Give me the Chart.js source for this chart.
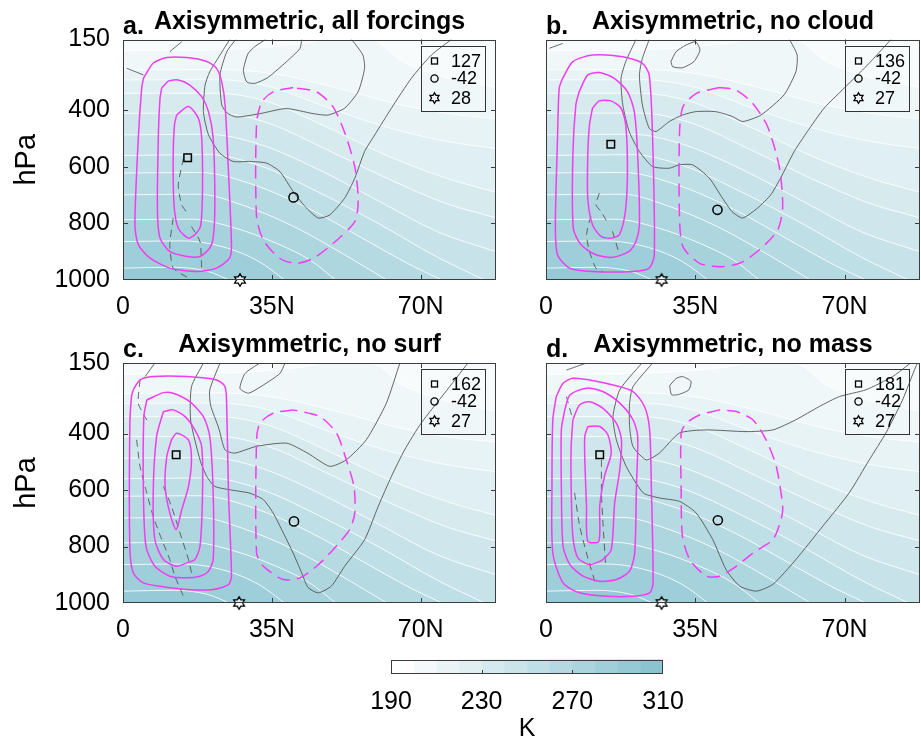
<!DOCTYPE html>
<html><head><meta charset="utf-8">
<script src="https://cdn.jsdelivr.net/npm/chart.js@4.4.1/dist/chart.umd.min.js"></script>
<style>
html,body{margin:0;padding:0;background:#fff;width:921px;height:742px;overflow:hidden;position:relative}
canvas{position:absolute}
</style></head><body>
<canvas id="pa" width="500" height="322" style="left:0px;top:0px"></canvas>
<canvas id="pb" width="498" height="322" style="left:423px;top:0px"></canvas>
<canvas id="pc" width="500" height="322" style="left:0px;top:323px"></canvas>
<canvas id="pd" width="498" height="322" style="left:423px;top:323px"></canvas>
<canvas id="cb" width="380" height="102" style="left:340px;top:640px"></canvas>
<script>
// ---------------- axes / ticks ----------------
const xTickValues = [0, 35, 70];
const xTickLabels = ['0', '35N', '70N'];
const yTickValues = [150, 400, 600, 800, 1000];
const latMin = 0, latMax = 87.7, pTop = 150, pBottom = 1000;
const cbLevels = [190, 200, 210, 220, 230, 240, 250, 260, 270, 280, 290, 300, 310];
const cbTickValues = [190, 230, 270, 310];

// ---------------- temperature isotherms [lat, hPa] (shared shading) ----------------
const isoL01 = [[0,190],[25,185],[42,165],[48,150],[58,150],[66,230],[76,285],[87.7,320]];
const isoL02 = [[0,258],[22,256],[35,270],[50,320],[65,380],[78,415],[87.7,430]];
const isoL03 = [[0,293],[22,292],[34,315],[48,390],[62,460],[76,510],[87.7,535]];
const isoL04 = [[0,340],[22,340],[34,370],[48,460],[62,560],[76,640],[87.7,690]];
const isoL05 = [[0,411],[22,410],[34,445],[48,540],[62,640],[76,730],[87.7,780]];
const isoL06 = [[0,487],[20,485],[32,520],[46,610],[60,720],[74,830],[87.7,900]];
const isoL07 = [[0,560],[20,557],[32,595],[46,690],[60,800],[74,920],[85,1000]];
const isoL08 = [[0,622],[18,620],[30,660],[44,750],[56,850],[68,950],[75,1000]];
const isoL09 = [[0,699],[18,697],[28,735],[40,810],[52,910],[62,1000]];
const isoL10 = [[0,787],[16,785],[26,815],[36,870],[44,930],[50,1000]];
const isoL11 = [[0,864],[14,862],[24,885],[32,935],[38,1000]];
const isoL12 = [[0,958],[12,955],[20,970],[25,1000]];

// ---------------- panel a ----------------
const aPsiPos = [
 [[4.8,287],[7.1,234],[10.3,214],[15.0,214],[19.7,228],[22.0,252],[23.2,299],[24.0,381],[24.8,617],[25.5,875],[25.1,922],[22.0,958],[17.3,970],[11.0,958],[6.3,922],[3.6,875],[2.8,805],[3.6,499],[4.4,322]],
 [[9.1,322],[10.7,297],[13.0,293],[15.7,311],[18.5,352],[20.1,405],[21.2,499],[21.6,734],[21.2,852],[20.4,887],[18.1,917],[15.0,917],[11.0,899],[8.7,852],[8.1,758],[8.3,499],[8.7,358]],
 [[12.6,417],[15.4,387],[17.7,428],[18.5,499],[18.7,675],[18.3,805],[17.3,834],[15.4,852],[13.0,817],[12.0,734],[11.8,558],[12.1,452]]
];
const aPsiNeg = [
 [[40.0,320],[35.3,335],[32.6,371],[31.4,447],[31.4,776],[33.0,859],[36.9,924],[40.8,941],[44.7,924],[49.4,871],[54.5,794],[55.3,718],[54.5,600],[52.2,482],[49.4,388],[45.5,335]]
];
const aGreySolid = [
 [[25.1,150],[22.8,205],[20.4,264],[19.3,311],[18.9,405],[20.1,487],[22.8,552],[25.9,581],[29.8,581],[33.8,587],[36.9,617],[40.0,687],[42.8,740],[45.9,781],[48.6,770],[52.1,711],[54.5,640],[56.8,546],[59.2,487],[63.1,393],[67.8,287],[72.5,205],[77.2,150]],
 [[26.5,150],[24.4,193],[22.8,275],[23.2,381],[24.5,410],[26.7,424],[32.2,412],[38.4,394],[44.7,412],[48.2,417],[52.1,393],[55.3,334],[56.8,252],[56.4,205],[54.5,164],[53.7,150]],
 [[33.5,150],[31.0,175],[29.4,200],[28.3,259],[29.1,300],[31.0,305],[34.0,285],[38.4,229],[41.6,182],[42.0,150]],
 [[0.9,252],[4.8,275]],
 [[11.0,193],[13.8,158]]
];
const aGreyDash = [
 [[14.2,570],[13.0,664],[13.8,734],[15.4,770]],
 [[11.8,781],[11.0,875],[11.8,958],[15.4,993]],
 [[16.1,811],[18.1,864],[18.5,958]]
];
const aSquare = [15.2, 568], aCircle = [40.1, 708], aStar = [27.5, 1000];
const aLegend = [127, -42, 28];

// ---------------- panel b ----------------
const bPsiPos = [
 [[3.9,287],[6.3,228],[10.9,205],[18.0,211],[22.6,234],[24.2,275],[25.0,499],[25.4,911],[24.2,958],[20.3,970],[10.9,970],[5.5,958],[2.7,911],[2.2,805],[2.7,499],[3.1,322]],
 [[7.8,334],[9.8,275],[12.5,267],[16.0,287],[19.1,334],[20.7,405],[21.5,558],[21.9,805],[21.1,864],[19.5,899],[15.6,920],[11.7,911],[8.2,875],[6.4,817],[6.3,558],[7.0,381]],
 [[10.9,393],[12.5,367],[15.2,367],[17.6,393],[18.7,452],[19.1,617],[18.6,758],[17.2,840],[15.2,852],[12.9,846],[10.9,805],[9.8,711],[9.8,558],[10.2,452]]
];
const bPsiNeg = [
 [[40.7,320],[35.2,341],[32.1,388],[31.3,482],[31.3,776],[32.1,882],[36.0,941],[40.7,953],[45.4,941],[50.0,894],[54.3,824],[55.5,741],[54.7,600],[52.0,459],[48.5,376],[44.6,329]]
];
const bGreySolid = [
 [[21.1,150],[18.7,228],[17.6,287],[18.0,381],[19.5,475],[21.9,546],[25.0,599],[28.9,605],[31.2,593],[34.4,593],[38.3,640],[41.4,711],[43.6,758],[46.1,781],[49.6,746],[52.7,699],[55.0,640],[58.2,546],[61.3,475],[65.2,393],[69.9,322],[75.4,240],[80.9,150]],
 [[24.2,150],[22.6,217],[21.9,275],[22.6,381],[24.2,464],[25.8,475],[28.9,440],[32.0,417],[35.1,405],[39.8,405],[43.7,422],[46.1,440],[50.4,417],[55.8,346],[58.6,264],[58.9,205],[57.4,158],[57.0,150]],
 [[29.3,228],[30.5,193],[32.8,170],[35.1,158],[36.1,187],[34.7,228],[32.0,250],[29.7,246],[29.3,228]],
 [[0.8,181],[3.9,164]]
];
const bGreyDash = [
 [[12.5,693],[11.7,734],[12.9,758],[14.5,799]],
 [[10.5,775],[9.5,840],[10.2,899],[11.7,958],[13.3,970]],
 [[15.6,828],[17.0,899]]
];
const bSquare = [15.2, 520], bCircle = [40.2, 752], bStar = [27.1, 1000];
const bLegend = [136, -42, 27];

// ---------------- panel c ----------------
const cPsiPos = [
 [[2.4,245],[4.0,210],[7.1,198],[15.0,198],[22.0,210],[24.0,234],[24.4,316],[24.8,611],[25.5,905],[24.8,935],[21.2,952],[15.0,952],[8.7,941],[4.8,929],[2.4,893],[1.6,799],[1.6,375],[2.0,269]],
 [[5.6,281],[9.5,255],[11.8,257],[15.7,287],[18.9,340],[20.4,410],[21.2,611],[21.2,846],[20.1,887],[18.1,905],[15.0,911],[11.0,905],[7.5,870],[5.4,799],[4.8,611],[4.9,340]],
 [[9.5,322],[11.8,316],[14.6,340],[16.9,387],[18.5,446],[18.7,611],[18.1,799],[16.9,846],[15.0,858],[12.6,870],[9.5,846],[7.5,776],[7.1,611],[7.9,410]],
 [[11.4,422],[12.6,399],[15.4,422],[16.1,493],[15.4,587],[13.8,670],[12.5,740],[11.0,681],[9.9,587],[10.3,481]]
];
const cPsiNeg = [
 [[40.0,316],[35.3,328],[32.2,363],[31.4,422],[31.4,822],[33.0,870],[37.7,917],[41.6,911],[45.5,870],[49.4,811],[53.3,740],[54.5,681],[54.3,587],[52.5,493],[50.2,398],[46.3,340]]
];
const cGreySolid = [
 [[18.9,150],[16.1,234],[15.9,352],[18.1,493],[19.7,552],[21.6,587],[25.1,599],[29.8,611],[33.0,634],[35.3,681],[37.7,752],[40.0,823],[42.0,893],[43.5,945],[45.9,964],[49.0,940],[52.1,870],[56.8,776],[60.0,658],[63.1,552],[66.2,458],[70.1,363],[75.6,257],[81.1,150]],
 [[22.8,150],[20.4,245],[20.6,300],[22.5,380],[24.0,458],[26.3,469],[31.4,445],[38.5,434],[43.5,470],[48.6,516],[52.5,493],[57.2,422],[61.9,293],[65.1,150]],
 [[32.2,150],[28.7,187],[27.5,240],[29.5,257],[33.0,228],[36.9,187],[38.1,150]],
 [[7.5,150],[5.2,198]]
];
const cGreyDash = [
 [[4.0,210],[3.6,293],[5.6,352]],
 [[3.2,422],[4.0,516],[5.6,611],[7.1,693],[9.1,775],[11.0,846],[12.2,905],[14.2,976]],
 [[9.5,587],[11.4,658],[13.4,752],[15.4,846],[16.1,893]]
];
const cSquare = [12.5, 475], cCircle = [40.2, 711], cStar = [27.3, 1000];
const cLegend = [162, -42, 27];

// ---------------- panel d ----------------
const dPsiPos = [
 [[2.4,269],[4.0,222],[6.3,204],[10.2,210],[15.7,228],[20.4,251],[23.1,304],[24.3,387],[24.7,587],[25.1,929],[24.3,964],[20.4,976],[14.1,976],[7.9,964],[4.0,929],[1.6,823],[1.4,587],[1.6,351]],
 [[4.4,316],[5.6,263],[9.5,239],[13.3,251],[17.3,292],[20.4,351],[21.5,410],[21.2,587],[20.8,823],[19.6,887],[16.5,917],[12.6,923],[8.7,905],[5.6,864],[4.0,799],[3.6,587],[3.6,387]],
 [[6.3,351],[7.9,298],[10.2,287],[13.3,310],[16.5,363],[17.7,422],[17.3,528],[16.1,646],[15.3,811],[13.3,846],[10.2,864],[7.5,840],[6.3,764],[5.9,587],[5.9,446]],
 [[9.8,375],[12.6,375],[14.5,404],[15.3,469],[13.7,552],[12.6,658],[12.4,781],[9.8,781],[9.5,658],[9.1,493],[9.1,410]]
];
const dPsiNeg = [
 [[40.7,316],[36.0,334],[32.9,363],[31.7,398],[31.7,610],[32.0,764],[33.7,846],[37.6,905],[40.7,905],[44.6,870],[48.5,823],[53.2,775],[55.1,705],[55.5,658],[54.0,516],[51.6,422],[48.5,351],[44.6,322]]
];
const dGreySolid = [
 [[22.5,150],[17.3,245],[15.7,340],[16.5,422],[18.8,516],[22.8,610],[26.6,628],[31.3,640],[35.2,681],[39.1,775],[42.2,881],[45.4,940],[49.3,958],[53.2,934],[58.6,846],[64.9,728],[71.1,610],[75.8,493],[79.7,398],[83.6,281],[86.7,163],[87.2,150]],
 [[25.0,150],[20.4,234],[19.6,293],[19.6,375],[20.4,446],[23.5,493],[26.6,469],[31.3,398],[37.6,387],[46.9,393],[53.2,387],[58.6,351],[64.1,304],[68.8,269],[75.0,245],[81.3,198],[84.4,163],[85.5,150]],
 [[29.0,230],[30.5,205],[32.0,198],[34.0,215],[33.5,245],[31.0,262],[29.4,262],[29.0,230]],
 [[4.8,175],[9.5,150]]
];
const dGreyDash = [
 [[4.8,269],[6.3,351]],
 [[13.0,493],[13.0,610],[13.4,728],[14.0,870]],
 [[6.7,610],[7.9,728],[9.9,846],[11.8,940]]
];
const dSquare = [12.6, 475], dCircle = [40.3, 707], dStar = [27.1, 1000];
const dLegend = [181, -42, 27];

// ---------------- styles ----------------
const FONT = "'Liberation Sans', Arial, Helvetica, sans-serif";
const MAGENTA = '#f23cf0';
const GREY = 'rgba(75,75,75,0.85)';
const DARK = [138, 196, 209];
function mix(t) {
  return 'rgb(' + DARK.map(c => Math.round(255 - t * (255 - c))).join(',') + ')';
}
function bandColor(k) { return mix(0.06 + 0.07 * k); }
function cbColor(i) { return mix(i / 11); }

function hexPath(ctx, x, y, R) {
  ctx.beginPath();
  for (let i = 0; i < 12; i++) {
    const a = -Math.PI / 2 + i * Math.PI / 6;
    const r = i % 2 === 0 ? R : R / Math.sqrt(3);
    const px = x + r * Math.cos(a), py = y + r * Math.sin(a);
    if (i) ctx.lineTo(px, py); else ctx.moveTo(px, py);
  }
  ctx.closePath();
}
const starImg = document.createElement('canvas');
starImg.width = 16; starImg.height = 16;
(function () {
  const c = starImg.getContext('2d');
  hexPath(c, 8, 8, 6.2);
  c.fillStyle = 'rgba(255,255,255,0.7)'; c.fill();
  c.lineWidth = 1.3; c.strokeStyle = '#000'; c.stroke();
})();

const toXY = arr => arr.map(p => ({x: p[0], y: p[1]}));
const closeLoop = arr => arr.concat([arr[0]]);

function lineDs(arr, color, width, dash, tension) {
  return {data: toXY(arr), borderColor: color, borderWidth: width, borderDash: dash,
    pointRadius: 0, tension: tension, fill: false, borderJoinStyle: 'round'};
}
function isoDs(arr, color) {
  return {data: toXY(arr), borderColor: 'rgba(255,255,255,0.85)', borderWidth: 1,
    backgroundColor: color, fill: {value: pBottom}, pointRadius: 0,
    cubicInterpolationMode: 'monotone'};
}
function markerDs(pt, style, radius) {
  return {data: toXY([pt]), showLine: false, pointStyle: style, pointRadius: radius,
    pointBorderColor: '#000', pointBackgroundColor: 'rgba(0,0,0,0)', pointBorderWidth: 1.5, clip: false};
}

const isoLines = [isoL01, isoL02, isoL03, isoL04, isoL05, isoL06, isoL07, isoL08, isoL09, isoL10, isoL11, isoL12];

const panelDeco = {
  id: 'panelDeco',
  beforeDatasetsDraw(chart, args, o) {
    if (!o.bg) return;
    const {ctx, chartArea: a} = chart;
    ctx.save(); ctx.fillStyle = o.bg;
    ctx.fillRect(a.left, a.top, a.right - a.left, a.bottom - a.top);
    ctx.restore();
  },
  afterDatasetsDraw(chart, args, o) {
    const {ctx, chartArea: a, scales} = chart;
    ctx.save();
    ctx.strokeStyle = '#3c3c3c'; ctx.lineWidth = 1;
    ctx.beginPath();
    (o.xTicks || []).forEach(v => {
      const px = Math.round(scales.x.getPixelForValue(v)) + 0.5;
      ctx.moveTo(px, a.bottom); ctx.lineTo(px, a.bottom - o.tickLen);
      if (o.topTicks) { ctx.moveTo(px, a.top); ctx.lineTo(px, a.top + o.tickLen); }
    });
    (o.yTicks || []).forEach(v => {
      const py = Math.round(scales.y.getPixelForValue(v)) + 0.5;
      ctx.moveTo(a.left, py); ctx.lineTo(a.left + o.tickLen, py);
      ctx.moveTo(a.right, py); ctx.lineTo(a.right - o.tickLen, py);
    });
    ctx.stroke();
    ctx.strokeRect(Math.round(a.left) + 0.5, Math.round(a.top) + 0.5,
      Math.round(a.right) - Math.round(a.left) - 1, Math.round(a.bottom) - Math.round(a.top) - 1);
    if (o.legend) {
      const bx = Math.round(a.right - 75) + 0.5, by = Math.round(a.top + 6) + 0.5;
      ctx.strokeStyle = '#333'; ctx.lineWidth = 1;
      ctx.strokeRect(bx, by, 64, 65);
      const rows = [by + 14.5, by + 32, by + 51.5];
      const mx = bx + 13;
      ctx.strokeStyle = '#000'; ctx.lineWidth = 1.3;
      ctx.strokeRect(mx - 3, rows[0] - 3, 6, 6);
      ctx.beginPath(); ctx.arc(mx, rows[1], 3.6, 0, 2 * Math.PI); ctx.stroke();
      hexPath(ctx, mx, rows[2], 5.2); ctx.stroke();
      ctx.fillStyle = '#000'; ctx.font = '18px ' + FONT;
      ctx.textBaseline = 'middle'; ctx.textAlign = 'left';
      o.legend.forEach((v, i) => ctx.fillText(String(v), bx + 29.5, rows[i] + 1));
    }
    ctx.restore();
  },
  afterDraw(chart, args, o) {
    if (!o.title) return;
    const {ctx, chartArea: a} = chart;
    ctx.save();
    ctx.fillStyle = '#000'; ctx.font = 'bold 25px ' + FONT; ctx.textBaseline = 'alphabetic';
    ctx.textAlign = 'left'; ctx.fillText(o.letter, a.left, a.top - 6);
    ctx.textAlign = 'center'; ctx.fillText(o.title, (a.left + a.right) / 2, a.top - 11);
    ctx.restore();
  }
};
Chart.register(panelDeco);

function makePanel(id, letter, title, padRight, padTop, showY, psiPos, psiNeg, greySolid, greyDash, sq, ci, st, legendVals) {
  const ds = [];
  ds.push(markerDs(sq, 'rect', 5.3));
  ds.push(markerDs(ci, 'circle', 4.6));
  ds.push(markerDs(st, starImg, 6));
  psiPos.forEach(l => ds.push(lineDs(closeLoop(l), MAGENTA, 1.5, [], 0.25)));
  psiNeg.forEach(l => ds.push(lineDs(closeLoop(l), MAGENTA, 1.5, [13, 7], 0.25)));
  greySolid.forEach(s => ds.push(lineDs(s, GREY, 1, [], 0.2)));
  greyDash.forEach(s => ds.push(lineDs(s, GREY, 1, [7, 5], 0.2)));
  for (let k = isoLines.length; k >= 1; k--) ds.push(isoDs(isoLines[k - 1], bandColor(k)));
  return new Chart(document.getElementById(id), {
    type: 'line',
    data: {datasets: ds},
    options: {
      responsive: false, animation: false, devicePixelRatio: 1, events: [],
      layout: {autoPadding: false, padding: {left: 0, right: padRight, top: padTop, bottom: 0}},
      plugins: {
        legend: {display: false}, tooltip: {enabled: false},
        panelDeco: {bg: bandColor(0), xTicks: [35, 70], yTicks: [400, 600, 800], tickLen: 5, topTicks: true,
          legend: legendVals, letter: letter, title: title}
      },
      scales: {
        x: {type: 'linear', min: latMin, max: latMax,
          afterBuildTicks: s => { s.ticks = xTickValues.map(v => ({value: v})); },
          afterFit: s => { s.height = 42; },
          grid: {display: false, drawTicks: false}, border: {display: false},
          ticks: {autoSkip: false, maxRotation: 0, padding: 12, color: '#000',
            font: {family: FONT, size: 25}, callback: (v, i) => xTickLabels[i]}},
        y: {type: 'linear', reverse: true, min: pTop, max: pBottom,
          afterBuildTicks: s => { s.ticks = yTickValues.map(v => ({value: v})); },
          afterFit: s => { s.width = 123; },
          grid: {display: false, drawTicks: false}, border: {display: false},
          title: {display: showY, text: 'hPa', color: '#000', font: {family: FONT, size: 29, lineHeight: 1}, padding: {top: 12, bottom: 0}},
          ticks: {display: showY, autoSkip: false, padding: 13, color: '#000', font: {family: FONT, size: 25},
            callback: v => String(v)}}
      }
    }
  });
}

makePanel('pa', 'a.', 'Axisymmetric, all forcings', 4, 39.5, true, aPsiPos, aPsiNeg, aGreySolid, aGreyDash, aSquare, aCircle, aStar, aLegend);
makePanel('pb', 'b.', 'Axisymmetric, no cloud', 1, 39.5, false, bPsiPos, bPsiNeg, bGreySolid, bGreyDash, bSquare, bCircle, bStar, bLegend);
makePanel('pc', 'c.', 'Axisymmetric, no surf', 4, 40, true, cPsiPos, cPsiNeg, cGreySolid, cGreyDash, cSquare, cCircle, cStar, cLegend);
makePanel('pd', 'd.', 'Axisymmetric, no mass', 1, 40, false, dPsiPos, dPsiNeg, dGreySolid, dGreyDash, dSquare, dCircle, dStar, dLegend);

// ---------------- colorbar ----------------
const cbDatasets = [];
for (let i = 0; i < cbLevels.length - 1; i++) {
  cbDatasets.push({data: [[cbLevels[i], cbLevels[i + 1]]], backgroundColor: cbColor(i), borderWidth: 0,
    barPercentage: 1, categoryPercentage: 1, grouped: false});
}
new Chart(document.getElementById('cb'), {
  type: 'bar',
  data: {labels: ['T'], datasets: cbDatasets},
  options: {
    indexAxis: 'y', responsive: false, animation: false, devicePixelRatio: 1, events: [],
    layout: {autoPadding: false, padding: {left: 51, right: 57, top: 19.5, bottom: 0}},
    plugins: {legend: {display: false}, tooltip: {enabled: false},
      panelDeco: {xTicks: [230, 270], yTicks: [], tickLen: 4, topTicks: false}},
    scales: {
      y: {display: false},
      x: {type: 'linear', min: 190, max: 310, offset: false,
        afterBuildTicks: s => { s.ticks = cbTickValues.map(v => ({value: v})); },
        afterFit: s => { s.height = 68; },
        grid: {display: false, drawTicks: false}, border: {display: false},
        title: {display: true, text: 'K', color: '#000', font: {family: FONT, size: 25, lineHeight: 1}, padding: 0},
        ticks: {autoSkip: false, maxRotation: 0, padding: 13, color: '#000', font: {family: FONT, size: 25}}}
    }
  }
});
</script>
</body></html>
